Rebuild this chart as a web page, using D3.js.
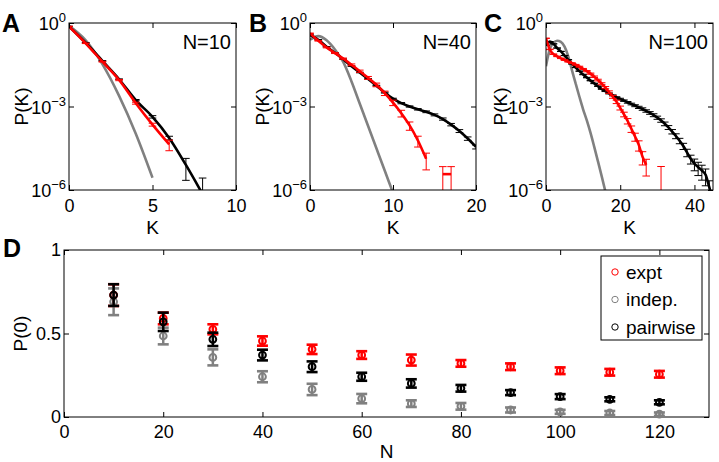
<!DOCTYPE html>
<html><head><meta charset="utf-8">
<script src="https://cdn.jsdelivr.net/npm/d3@7"></script>
<style>
body{margin:0;background:#fff}
svg text{font-family:"Liberation Sans",Arial,Helvetica,sans-serif;fill:#000}
</style>
</head><body>
<svg id="chart" width="719" height="462"></svg>
<script>
// ---------------- DATA (log10 P(K); errors are relative, sigma/P) ----------------
// Panel A, N=10
const kA = [0,1,2,3,4,5,6,7,8];
const redA = [-0.12,-0.73,-1.39,-2.05,-2.88,-3.65,-4.36];
const redAErr = [0.01,0.02,0.03,0.05,0.08,0.12,0.41];
const blackA = [-0.12,-0.71,-1.36,-2.02,-2.77,-3.37,-4.13,-5.1,-6.15];
const blackAErr = [0.01,0.01,0.02,0.03,0.05,0.1,0.15,0.72,2.8];
const grayA = [-0.1,-0.62,-1.48,-2.62,-3.98,-5.56];

// Panel B, N=40
const kB = [0,1,2,3,4,5,6,7,8,9,10,11,12,13,14,15,16,17,18,19,20];
const redB = [-0.37,-0.64,-0.88,-1.08,-1.28,-1.5,-1.73,-1.97,-2.22,-2.52,-2.86,-3.24,-3.68,-4.22,-4.88];
const redBErr = [0.02,0.02,0.03,0.04,0.05,0.07,0.09,0.12,0.15,0.18,0.22,0.27,0.33,0.42,0.6];
const redBTailK = [16,17];
const redBTail = [-5.43,-5.43];
const redBTailErr = [0.86,0.86];
const blackB = [-0.43,-0.6,-0.85,-1.07,-1.3,-1.55,-1.78,-2.01,-2.25,-2.5,-2.72,-2.88,-3.0,-3.1,-3.19,-3.3,-3.45,-3.65,-3.88,-4.15,-4.45];
const blackBErr = [0.01,0.01,0.01,0.01,0.02,0.02,0.02,0.03,0.03,0.04,0.04,0.05,0.05,0.06,0.07,0.08,0.09,0.1,0.12,0.14,0.16];
const grayB = [-0.6,-0.47,-0.62,-0.95,-1.4,-2.1,-2.9,-3.7,-4.5,-5.3,-6.1];

// Panel C, N=100
const kC = d3.range(0,46);
const redC = [-0.55,-0.95,-1.12,-1.2,-1.27,-1.33,-1.39,-1.44,-1.5,-1.57,-1.65,-1.73,-1.82,-1.93,-2.05,-2.18,-2.32,-2.48,-2.65,-2.83,-3.05,-3.28,-3.52,-3.8,-4.08,-4.38,-4.8,-5.1];
const redCErr = [0.02,0.02,0.02,0.02,0.02,0.03,0.03,0.03,0.03,0.04,0.04,0.05,0.05,0.06,0.07,0.08,0.09,0.1,0.12,0.14,0.16,0.19,0.22,0.26,0.32,0.4,0.5,0.6];
const redCTailK = [31];
const redCTail = [-5.7];
const redCTailErr = [2.5];
const blackC = [-0.8,-0.67,-0.75,-0.9,-1.02,-1.17,-1.32,-1.47,-1.6,-1.73,-1.85,-1.96,-2.07,-2.17,-2.27,-2.37,-2.45,-2.53,-2.6,-2.67,-2.73,-2.79,-2.85,-2.91,-2.97,-3.03,-3.09,-3.16,-3.23,-3.31,-3.4,-3.5,-3.62,-3.75,-3.9,-4.06,-4.23,-4.42,-4.65,-4.88,-5.05,-5.18,-5.3,-5.45,-5.9,-6.4];
const blackCErr = [0.01,0.01,0.01,0.01,0.01,0.01,0.01,0.01,0.01,0.01,0.02,0.02,0.02,0.02,0.02,0.03,0.03,0.04,0.04,0.05,0.06,0.06,0.07,0.07,0.08,0.09,0.1,0.1,0.11,0.12,0.13,0.14,0.15,0.16,0.18,0.2,0.22,0.25,0.3,0.35,0.45,0.5,0.55,0.6,0.7,0.8];
const grayC = [-1.55,-0.95,-0.72,-0.64,-0.68,-0.85,-1.2,-1.7,-2.18,-2.65,-3.1,-3.5,-3.95,-4.45,-4.97,-5.5,-6.05];

// Panel D
const nVals = [10,20,30,40,50,60,70,80,90,100,110,120];
const exptP = [0.73,0.59,0.525,0.455,0.405,0.371,0.341,0.321,0.301,0.277,0.268,0.256];
const exptErr = [0.065,0.035,0.03,0.028,0.028,0.023,0.033,0.02,0.02,0.02,0.02,0.02];
const indepP = [0.69,0.485,0.357,0.241,0.165,0.11,0.08,0.064,0.042,0.031,0.024,0.017];
const indepErr = [0.08,0.05,0.048,0.033,0.034,0.028,0.02,0.02,0.015,0.012,0.012,0.01];
const pairP = [0.73,0.57,0.465,0.371,0.301,0.241,0.201,0.172,0.146,0.122,0.106,0.088];
const pairErr = [0.065,0.055,0.04,0.032,0.032,0.024,0.025,0.02,0.015,0.015,0.012,0.012];
const legendLabels = ["expt","indep.","pairwise"];

const RED = "#ff0000", GRAY = "#808080", BLACK = "#000000";
const svg = d3.select("#chart");
const TICK_FS = 18, LABEL_FS = 19;

function styleAxis(g, size){
  g.attr("font-family", null).attr("font-size", null);
  g.selectAll("text").style("font-size", size + "px");
  g.selectAll(".domain").remove();
  g.selectAll("line").attr("stroke", "#000");
}

function logPanel(p){
  const x = d3.scaleLinear().domain(p.xDomain).range([p.left, p.right]);
  const y = d3.scaleLog().domain([1e-6, 1]).range([p.bottom, p.top]);
  const clipId = "clip" + p.id;
  svg.append("clipPath").attr("id", clipId).append("rect")
    .attr("x", p.left).attr("y", p.top).attr("width", p.right - p.left).attr("height", p.bottom - p.top);
  const plot = svg.append("g").attr("clip-path", `url(#${clipId})`);
  const line = d3.line().x(d => x(d.k)).y(d => y(d.p)).curve(d3.curveMonotoneX);

  p.series.forEach(s => {
    const pts = s.v.map((v, i) => ({k: s.k[i], p: Math.pow(10, v), r: s.err ? s.err[i] : 0}));
    plot.append("path").datum(pts).attr("d", line).attr("fill", "none")
      .attr("stroke", s.color).attr("stroke-width", 2.6).attr("stroke-linejoin", "round");
    if (s.err) {
      const eg = plot.append("g").attr("stroke", s.color).attr("stroke-width", 1).attr("fill", "none");
      pts.forEach(d => {
        const hi = d.p * (1 + d.r);
        let lo = d.p * (1 - d.r);
        if (lo <= 1e-9) lo = 1e-9;
        const cx = x(d.k), yh = y(hi), yl = y(lo), cw = 3.8;
        eg.append("line").attr("x1", cx).attr("x2", cx).attr("y1", yh).attr("y2", yl);
        eg.append("line").attr("x1", cx - cw).attr("x2", cx + cw).attr("y1", yh).attr("y2", yh);
        eg.append("line").attr("x1", cx - cw).attr("x2", cx + cw).attr("y1", yl).attr("y2", yl);
      });
    }
  });

  // axes with inward ticks
  const gb = svg.append("g").attr("transform", `translate(0,${p.bottom})`)
    .call(d3.axisBottom(x).tickValues(p.xTicks).tickSize(-5).tickPadding(9).tickFormat(d3.format("d")));
  styleAxis(gb, TICK_FS);
  const gt = svg.append("g").attr("transform", `translate(0,${p.top})`)
    .call(d3.axisTop(x).tickValues(p.xTicks).tickSize(-5).tickFormat(""));
  styleAxis(gt, TICK_FS);
  const gl = svg.append("g").attr("transform", `translate(${p.left},0)`)
    .call(d3.axisLeft(y).tickValues([1, 1e-3, 1e-6]).tickSize(-5).tickFormat(""));
  styleAxis(gl, TICK_FS);
  const gr = svg.append("g").attr("transform", `translate(${p.right},0)`)
    .call(d3.axisRight(y).tickValues([1, 1e-3, 1e-6]).tickSize(-5).tickFormat(""));
  styleAxis(gr, TICK_FS);
  svg.append("rect").attr("x", p.left).attr("y", p.top).attr("width", p.right - p.left)
    .attr("height", p.bottom - p.top).attr("fill", "none").attr("stroke", "#000").attr("stroke-width", 1);

  // y tick labels 10^n
  [[1, "0"], [1e-3, "\u22123"], [1e-6, "\u22126"]].forEach(([v, e]) => {
    const t = svg.append("text").attr("x", p.left - 3).attr("y", y(v)).attr("dy", "0.4em")
      .attr("text-anchor", "end").style("font-size", TICK_FS + "px");
    t.append("tspan").text("10");
    t.append("tspan").attr("dy", "-0.6em").style("font-size", "13px").text(e);
  });
  // labels
  svg.append("text").attr("x", (p.left + p.right) / 2).attr("y", 234).attr("text-anchor", "middle")
    .style("font-size", LABEL_FS + "px").text("K");
  svg.append("text").attr("transform", `translate(${p.ylabX},${(p.top + p.bottom) / 2}) rotate(-90)`)
    .attr("text-anchor", "middle").style("font-size", LABEL_FS + "px").text("P(K)");
  svg.append("text").attr("x", p.right - 5).attr("y", 49).attr("text-anchor", "end")
    .style("font-size", "20px").text(p.title);
  svg.append("text").attr("x", p.letterX).attr("y", 32).style("font-size", "25px")
    .style("font-weight", "bold").text(p.letter);
}

logPanel({id: "A", letter: "A", letterX: 2, title: "N=10", left: 69, right: 236, top: 23, bottom: 190,
  ylabX: 28, xDomain: [0, 10], xTicks: [0, 5, 10],
  series: [
    {k: kA, v: grayA, color: GRAY},
    {k: kA, v: blackA, err: blackAErr, color: BLACK},
    {k: kA, v: redA, err: redAErr, color: RED}
  ]});
logPanel({id: "B", letter: "B", letterX: 249, title: "N=40", left: 310, right: 476, top: 23, bottom: 190,
  ylabX: 269, xDomain: [0, 20], xTicks: [0, 10, 20],
  series: [
    {k: kB, v: grayB, color: GRAY},
    {k: kB, v: blackB, err: blackBErr, color: BLACK},
    {k: kB, v: redB, err: redBErr, color: RED},
    {k: redBTailK, v: redBTail, err: redBTailErr, color: RED}
  ]});
logPanel({id: "C", letter: "C", letterX: 484, title: "N=100", left: 546, right: 713, top: 23, bottom: 190,
  ylabX: 507, xDomain: [0, 45], xTicks: [0, 20, 40],
  series: [
    {k: kC, v: grayC, color: GRAY},
    {k: kC, v: blackC, err: blackCErr, color: BLACK},
    {k: kC, v: redC, err: redCErr, color: RED},
    {k: redCTailK, v: redCTail, err: redCTailErr, color: RED}
  ]});

// ---------------- Panel D ----------------
(function(){
  const L = 64, R = 709, T = 250, B = 417;
  const x = d3.scaleLinear().domain([0, 130]).range([L, R]);
  const y = d3.scaleLinear().domain([0, 1]).range([B, T]);
  const xt = [0, 20, 40, 60, 80, 100, 120], yt = [0, 0.5, 1];
  const gb = svg.append("g").attr("transform", `translate(0,${B})`)
    .call(d3.axisBottom(x).tickValues(xt).tickSize(-5).tickPadding(8));
  styleAxis(gb, TICK_FS);
  const gt = svg.append("g").attr("transform", `translate(0,${T})`)
    .call(d3.axisTop(x).tickValues(xt).tickSize(-5).tickFormat(""));
  styleAxis(gt, TICK_FS);
  const gl = svg.append("g").attr("transform", `translate(${L},0)`)
    .call(d3.axisLeft(y).tickValues(yt).tickSize(-5).tickPadding(3).tickFormat(d3.format("")));
  styleAxis(gl, TICK_FS);
  const gr = svg.append("g").attr("transform", `translate(${R},0)`)
    .call(d3.axisRight(y).tickValues(yt).tickSize(-5).tickFormat(""));
  styleAxis(gr, TICK_FS);
  svg.append("rect").attr("x", L).attr("y", T).attr("width", R - L).attr("height", B - T)
    .attr("fill", "none").attr("stroke", "#000").attr("stroke-width", 1);

  const series = [
    {p: exptP, e: exptErr, color: RED},
    {p: indepP, e: indepErr, color: GRAY},
    {p: pairP, e: pairErr, color: BLACK}
  ];
  series.forEach(s => {
    const g = svg.append("g").attr("stroke", s.color).attr("fill", "none");
    nVals.forEach((n, i) => {
      const cx = x(n), yh = y(s.p[i] + s.e[i]), yl = y(s.p[i] - s.e[i]), cw = 5.5;
      g.append("line").attr("x1", cx).attr("x2", cx).attr("y1", yh).attr("y2", yl).attr("stroke-width", 2.5);
      g.append("line").attr("x1", cx - cw).attr("x2", cx + cw).attr("y1", yh).attr("y2", yh).attr("stroke-width", 2.6);
      g.append("line").attr("x1", cx - cw).attr("x2", cx + cw).attr("y1", yl).attr("y2", yl).attr("stroke-width", 2.6);
      g.append("circle").attr("cx", cx).attr("cy", y(s.p[i])).attr("r", 3.4).attr("stroke-width", 2);
    });
  });

  svg.append("text").attr("x", x(65)).attr("y", 458).attr("text-anchor", "middle")
    .style("font-size", LABEL_FS + "px").text("N");
  svg.append("text").attr("transform", `translate(27,${(T + B) / 2}) rotate(-90)`)
    .attr("text-anchor", "middle").style("font-size", LABEL_FS + "px").text("P(0)");
  svg.append("text").attr("x", 3).attr("y", 257).style("font-size", "25px")
    .style("font-weight", "bold").text("D");

  // legend
  const lg = svg.append("g");
  lg.append("rect").attr("x", 601).attr("y", 256).attr("width", 101).attr("height", 84)
    .attr("fill", "#fff").attr("stroke", "#000").attr("stroke-width", 1);
  series.forEach((s, i) => {
    const cy = 272 + i * 27.5;
    lg.append("circle").attr("cx", 615).attr("cy", cy).attr("r", 3.2)
      .attr("fill", "none").attr("stroke", s.color).attr("stroke-width", 1);
    lg.append("text").attr("x", 626).attr("y", cy).attr("dy", "0.36em")
      .style("font-size", "19px").text(legendLabels[i]);
  });
})();
</script>
</body></html>
